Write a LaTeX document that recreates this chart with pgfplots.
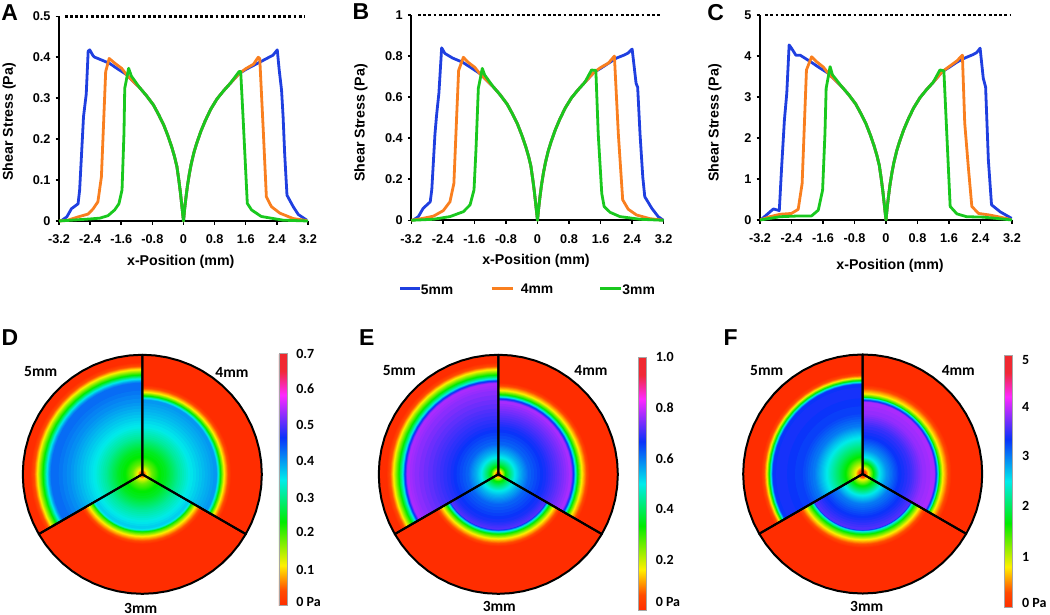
\documentclass[border=0pt]{standalone}
\usepackage{fontspec}
\setmainfont{Liberation Sans}
\newfontfamily\calfont{Carlito}
\usepackage{pgfplots}
\usepackage{pgfplotstable}
\pgfplotsset{compat=1.18}
\definecolor{cb}{RGB}{31,63,224}
\definecolor{co}{RGB}{249,127,31}
\definecolor{cg}{RGB}{25,200,30}
\pgfplotsset{
 colormap={heat}{rgb255(0pt)=(255,45,0) rgb255(60pt)=(255,75,0) rgb255(160pt)=(255,240,0) rgb255(333pt)=(0,235,0) rgb255(500pt)=(0,235,235) rgb255(667pt)=(10,50,250) rgb255(835pt)=(255,40,255) rgb255(930pt)=(240,40,55) rgb255(1000pt)=(240,40,45)},
 lineax/.style={scale only axis, axis lines=left, axis line style={-,line width=2pt},
  tick align=outside, major tick length=3.5pt, tick style={black,line width=1.5pt},
  xmin=-3.2,xmax=3.2, xtick={-3.2,-2.4,-1.6,-0.8,0,0.8,1.6,2.4,3.2},
  xticklabels={-3.2,-2.4,-1.6,-0.8,0,0.8,1.6,2.4,3.2},
  ymin=0, clip=false,
  tick label style={font=\fontsize{12.7}{15}\selectfont\bfseries},
  xticklabel style={yshift=-7pt},
  yticklabel style={xshift=-1.5pt},
  label style={font=\fontsize{14.2}{17}\selectfont\bfseries},
  every axis plot/.append style={line width=2.8pt,line join=round,no markers},
 },
 limitline/.style={black,line width=2.8pt,dash pattern=on 2.8pt off 2.4pt,line cap=butt},
 heatax/.style={scale only axis, hide axis, clip=false, xmin=-1.05,xmax=1.05,ymin=-1.05,ymax=1.05,
  width=251pt,height=251pt,colormap name=heat},
 barstyle/.style={colorbar, colorbar style={at={(parent axis.south east)},anchor=south west,
  scale only axis,width=8pt,height=#1,yticklabel pos=right,
  tick style={draw=none},axis line style={gray!70,line width=0.6pt},
  yticklabel style={font=\fontsize{14}{16}\selectfont\calfont\bfseries,xshift=6pt}}},
}
% Unit sector outline: rho, angle
\pgfplotstableread{
rho a
0 0
1 0
1 6
1 12
1 18
1 24
1 30
1 36
1 42
1 48
1 54
1 60
1 66
1 72
1 78
1 84
1 90
1 96
1 102
1 108
1 114
1 120
0 0
}\arcpts
\newcommand{\hband}[3]{%
 \pgfmathsetmacro\cv{1000*#2}%
 \edef\tmp{\noexpand\addplot[forget plot,draw=none,color of colormap={\cv},fill=.] table[x expr={#1*\noexpand\thisrow{rho}*cos(#3+\noexpand\thisrow{a})},y expr={#1*\noexpand\thisrow{rho}*sin(#3+\noexpand\thisrow{a})}] {\noexpand\arcpts};}\tmp}
\newcommand{\sector}[2]{%
 \foreach \rk/\fk [remember=\rk as \rp (initially 1), remember=\fk as \fp (initially 0)] in {#2} {%
  \pgfmathtruncatemacro\nn{max(1,ceil(abs(\fk-\fp)/0.01))}%
  \foreach \s in {1,...,\nn} {%
   \pgfmathsetmacro\rr{\rp+(\rk-\rp)*(\s-1)/\nn}%
   \pgfmathsetmacro\ff{\fp+(\fk-\fp)*(\s-.5)/\nn}%
   \hband{\rr}{\ff}{#1}%
  }%
 }}
\newcommand{\outlines}{%
 \foreach \o in {90,210,330} {%
  \edef\tmp{\noexpand\addplot[forget plot,black,line width=2pt,line join=round] table[x expr={\noexpand\thisrow{rho}*cos(\o+\noexpand\thisrow{a})},y expr={\noexpand\thisrow{rho}*sin(\o+\noexpand\thisrow{a})}] {\noexpand\arcpts};}\tmp}}
\newcommand{\lab}[4]{\node[inner sep=0pt,anchor=center,font=#3] at (#1pt,-#2pt) {#4};}
\begin{document}
\begin{tikzpicture}[x=1pt,y=1pt]
\path[use as bounding box] (0pt,0pt) rectangle (1050pt,-615pt);
% A
\begin{axis}[lineax,at={(59pt,-221pt)},width=249pt,height=204.7pt,ymax=0.5,
 ytick={0,0.1,0.2,0.3,0.4,0.5},yticklabels={0,0.1,0.2,0.3,0.4,0.5},
 xlabel={x-Position (mm)},ylabel={Shear Stress (Pa)},
 xlabel style={at={(axis description cs:0.489,-0.2)},anchor=center},
 ylabel style={at={(axis description cs:-0.1996,0.485)},anchor=center}]
\addplot[limitline] coordinates {(-3.05,0.5) (3.12,0.5)};
\addplot[cb] coordinates {(-3.15,0)(-3.0,.01)(-2.88,.03)(-2.71,.042)(-2.67,.075)(-2.6,.2)(-2.57,.255)(-2.5,.31)(-2.45,.415)(-2.41,.418)(-2.32,.403)(-2.28,.40)(-2.15,.395)(-1.9,.385)(-1.7,.372)(-1.47,.358)(-1.3,.342)(-1.13,.326)(-.95,.306)(-.77,.283)(-.64,.26)(-.51,.235)(-.4,.208)(-.3,.18)(-.23,.157)(-.17,.133)(-.12,.1)(-.08,.07)(-.04,.035)(0,0)(.03,.03)(.06,.055)(.1,.085)(.15,.115)(.2,.14)(.27,.168)(.34,.19)(.45,.22)(.56,.245)(.7,.273)(.86,.298)(1.03,.318)(1.2,.336)(1.43,.36)(1.6,.37)(1.8,.38)(2.0,.39)(2.2,.4)(2.3,.405)(2.41,.418)(2.46,.369)(2.52,.32)(2.56,.255)(2.6,.165)(2.66,.063)(2.82,.035)(2.95,.016)(3.17,.002)};
\addplot[co] coordinates {(-3.2,0)(-2.97,.002)(-2.71,.01)(-2.45,.017)(-2.32,.03)(-2.2,.047)(-2.11,.108)(-2.0,.365)(-1.91,.397)(-1.76,.385)(-1.59,.373)(-1.47,.358)(-1.3,.342)(-1.13,.326)(-.95,.306)(-.77,.283)(-.64,.26)(-.51,.235)(-.4,.208)(-.3,.18)(-.23,.157)(-.17,.133)(-.12,.1)(-.08,.07)(-.04,.035)(0,0)(.03,.03)(.06,.055)(.1,.085)(.15,.115)(.2,.14)(.27,.168)(.34,.19)(.45,.22)(.56,.245)(.7,.273)(.86,.298)(1.03,.318)(1.2,.336)(1.43,.36)(1.6,.372)(1.8,.383)(1.92,.40)(1.96,.397)(2.05,.222)(2.13,.059)(2.26,.035)(2.48,.019)(2.82,.006)(3.17,.001)};
\addplot[cg] coordinates {(-3.2,0)(-2.4,.005)(-2.15,.007)(-1.94,.013)(-1.77,.027)(-1.66,.042)(-1.58,.076)(-1.53,.214)(-1.51,.324)(-1.41,.373)(-1.34,.354)(-1.13,.326)(-.95,.306)(-.77,.283)(-.64,.26)(-.51,.235)(-.4,.208)(-.3,.18)(-.23,.157)(-.17,.133)(-.12,.1)(-.08,.07)(-.04,.035)(0,0)(.03,.03)(.06,.055)(.1,.085)(.15,.115)(.2,.14)(.27,.168)(.34,.19)(.45,.22)(.56,.245)(.7,.273)(.86,.298)(1.03,.318)(1.2,.336)(1.43,.365)(1.47,.365)(1.53,.255)(1.64,.043)(1.75,.027)(2.0,.011)(2.56,.002)(3.2,0)};
\end{axis}
% B
\begin{axis}[lineax,at={(411.3pt,-220.3pt)},width=252.4pt,height=205.3pt,ymax=1,
 ytick={0,0.2,0.4,0.6,0.8,1},yticklabels={0,0.2,0.4,0.6,0.8,1},
 xlabel={x-Position (mm)},ylabel={Shear Stress (Pa)},
 xlabel style={at={(axis description cs:0.494,-0.195)},anchor=center},
 ylabel style={at={(axis description cs:-0.199,0.474)},anchor=center}]
\addplot[limitline] coordinates {(-3.03,1) (3.14,1)};
\addplot[cb] coordinates {(-3.16,0)(-3.02,.018)(-2.9,.058)(-2.72,.09)(-2.68,.15)(-2.6,.42)(-2.56,.51)(-2.5,.62)(-2.43,.84)(-2.35,.813)(-2.28,.805)(-2.15,.79)(-1.9,.77)(-1.7,.745)(-1.47,.716)(-1.3,.684)(-1.13,.652)(-.95,.612)(-.77,.566)(-.64,.52)(-.51,.47)(-.4,.416)(-.3,.36)(-.23,.314)(-.17,.266)(-.12,.2)(-.08,.14)(-.04,.07)(0,0)(.03,.06)(.06,.11)(.1,.17)(.15,.23)(.2,.28)(.27,.336)(.34,.38)(.45,.44)(.56,.49)(.7,.546)(.86,.596)(1.03,.636)(1.2,.672)(1.43,.72)(1.6,.74)(1.8,.765)(2.0,.79)(2.2,.805)(2.3,.815)(2.4,.834)(2.5,.667)(2.54,.648)(2.6,.42)(2.67,.21)(2.72,.115)(2.9,.058)(3.06,.018)(3.19,0)};
\addplot[co] coordinates {(-3.2,0)(-2.95,.008)(-2.64,.02)(-2.39,.047)(-2.22,.09)(-2.12,.18)(-2.05,.505)(-2.0,.73)(-1.88,.794)(-1.76,.77)(-1.59,.745)(-1.47,.716)(-1.3,.684)(-1.13,.652)(-.95,.612)(-.77,.566)(-.64,.52)(-.51,.47)(-.4,.416)(-.3,.36)(-.23,.314)(-.17,.266)(-.12,.2)(-.08,.14)(-.04,.07)(0,0)(.03,.06)(.06,.11)(.1,.17)(.15,.23)(.2,.28)(.27,.336)(.34,.38)(.45,.44)(.56,.49)(.7,.546)(.86,.596)(1.03,.636)(1.2,.672)(1.43,.72)(1.6,.744)(1.8,.766)(1.95,.80)(2.05,.42)(2.16,.1)(2.3,.054)(2.51,.026)(2.85,.008)(3.17,.001)};
\addplot[cg] coordinates {(-3.2,0)(-2.64,.005)(-2.22,.018)(-1.88,.042)(-1.71,.075)(-1.61,.148)(-1.56,.343)(-1.5,.643)(-1.4,.74)(-1.34,.708)(-1.13,.652)(-.95,.612)(-.77,.566)(-.64,.52)(-.51,.47)(-.4,.416)(-.3,.36)(-.23,.314)(-.17,.266)(-.12,.2)(-.08,.14)(-.04,.07)(0,0)(.03,.06)(.06,.11)(.1,.17)(.15,.23)(.2,.28)(.27,.336)(.34,.38)(.45,.44)(.56,.49)(.7,.546)(.86,.596)(1.03,.636)(1.2,.672)(1.37,.732)(1.48,.73)(1.54,.42)(1.63,.13)(1.69,.067)(1.84,.039)(2.09,.018)(2.6,.005)(3.2,0)};
\end{axis}
% C
\begin{axis}[lineax,at={(760pt,-220pt)},width=252pt,height=205pt,ymax=5,
 ytick={0,1,2,3,4,5},yticklabels={0,1,2,3,4,5},
 xlabel={x-Position (mm)},ylabel={Shear Stress (Pa)},
 xlabel style={at={(axis description cs:0.516,-0.2246)},anchor=center},
 ylabel style={at={(axis description cs:-0.1786,0.473)},anchor=center}]
\addplot[limitline] coordinates {(-3.07,5) (3.14,5)};
\addplot[cb] coordinates {(-3.16,.02)(-2.86,.27)(-2.71,.23)(-2.65,1.3)(-2.58,2.44)(-2.52,3.09)(-2.46,4.27)(-2.4,4.19)(-2.29,4.02)(-2.18,4.02)(-1.9,3.85)(-1.7,3.72)(-1.47,3.58)(-1.3,3.42)(-1.13,3.26)(-.95,3.06)(-.77,2.83)(-.64,2.6)(-.51,2.35)(-.4,2.08)(-.3,1.8)(-.23,1.57)(-.17,1.33)(-.12,1.0)(-.08,.7)(-.04,.35)(0,0)(.03,.3)(.06,.55)(.1,.85)(.15,1.15)(.2,1.4)(.27,1.68)(.34,1.9)(.45,2.2)(.56,2.45)(.7,2.73)(.86,2.98)(1.03,3.18)(1.2,3.36)(1.43,3.62)(1.6,3.72)(1.8,3.85)(2.0,3.95)(2.2,4.03)(2.3,4.08)(2.39,4.19)(2.47,3.46)(2.53,3.24)(2.6,1.46)(2.68,.37)(2.9,.2)(3.19,.04)};
\addplot[co] coordinates {(-3.2,0)(-2.95,.08)(-2.69,.14)(-2.4,.16)(-2.23,.26)(-2.13,.89)(-2.02,3.66)(-1.89,3.98)(-1.76,3.86)(-1.59,3.73)(-1.47,3.58)(-1.3,3.42)(-1.13,3.26)(-.95,3.06)(-.77,2.83)(-.64,2.6)(-.51,2.35)(-.4,2.08)(-.3,1.8)(-.23,1.57)(-.17,1.33)(-.12,1.0)(-.08,.7)(-.04,.35)(0,0)(.03,.3)(.06,.55)(.1,.85)(.15,1.15)(.2,1.4)(.27,1.68)(.34,1.9)(.45,2.2)(.56,2.45)(.7,2.73)(.86,2.98)(1.03,3.18)(1.2,3.36)(1.43,3.62)(1.6,3.74)(1.8,3.88)(1.94,4.02)(2.0,2.36)(2.09,1.3)(2.18,.33)(2.35,.16)(2.64,.12)(2.9,.07)(3.17,.01)};
\addplot[cg] coordinates {(-3.2,0)(-2.69,.08)(-2.18,.1)(-1.89,.1)(-1.72,.24)(-1.61,.73)(-1.55,2.11)(-1.52,3.21)(-1.42,3.74)(-1.36,3.54)(-1.13,3.26)(-.95,3.06)(-.77,2.83)(-.64,2.6)(-.51,2.35)(-.4,2.08)(-.3,1.8)(-.23,1.57)(-.17,1.33)(-.12,1.0)(-.08,.7)(-.04,.35)(0,0)(.03,.3)(.06,.55)(.1,.85)(.15,1.15)(.2,1.4)(.27,1.68)(.34,1.9)(.45,2.2)(.56,2.45)(.7,2.73)(.86,2.98)(1.03,3.18)(1.2,3.36)(1.37,3.66)(1.47,3.64)(1.52,2.6)(1.63,.33)(1.8,.15)(2.05,.08)(2.47,.07)(2.9,.03)(3.2,0)};
\end{axis}
% D
\begin{axis}[heatax,at={(16.8pt,-599.8pt)},point meta min=0,point meta max=0.7,
 barstyle=252.4pt,
 colorbar style={xshift=2.5pt,yshift=-5.9pt,ytick={0.011,0.099,0.204,0.3,0.401,0.501,0.603,0.698},
 yticklabels={0 Pa,0.1,0.2,0.3,0.4,0.5,0.6,0.7}}]
\sector{90}{1/0,.935/0,.90/.07,.875/.16,.83/.33,.796/.5,.775/.58,.76/.62,.7/.61,.6/.58,.45/.52,.4/.5,.3/.44,.2/.36,.14/.33,.08/.26,.04/.17,.015/.06,.003/0}
\sector{330}{1/0,.745/0,.715/.07,.685/.16,.655/.33,.635/.5,.62/.58,.5/.54,.4/.5,.3/.44,.2/.36,.14/.33,.08/.26,.04/.17,.015/.06,.003/0}
\sector{210}{1/0,.585/0,.555/.07,.52/.16,.48/.33,.465/.5,.45/.53,.4/.5,.3/.44,.2/.36,.14/.33,.08/.26,.04/.17,.015/.06,.003/0}
\outlines
\end{axis}
% E
\begin{axis}[heatax,at={(372.8pt,-599.8pt)},point meta min=0,point meta max=1,
 barstyle=252.7pt,
 colorbar style={xshift=5.9pt,yshift=-10.2pt,ytick={0.03,0.2,0.4,0.6,0.8,1.0},
 yticklabels={0 Pa,0.2,0.4,0.6,0.8,1.0}}]
\sector{90}{1/0,.935/0,.90/.07,.875/.16,.83/.33,.796/.5,.78/.66,.76/.78,.7/.76,.55/.72,.4/.68,.25/.62,.18/.55,.14/.5,.09/.4,.06/.33,.03/.17,.01/.03,.003/0}
\sector{330}{1/0,.765/0,.735/.07,.70/.16,.665/.33,.645/.5,.63/.66,.61/.78,.55/.75,.4/.68,.25/.62,.18/.55,.14/.5,.09/.4,.06/.33,.03/.17,.01/.03,.003/0}
\sector{210}{1/0,.605/0,.575/.07,.54/.16,.50/.33,.48/.5,.46/.72,.4/.68,.25/.62,.18/.55,.14/.5,.09/.4,.06/.33,.03/.17,.01/.03,.003/0}
\outlines
\end{axis}
% F
\begin{axis}[heatax,at={(737.2pt,-599.5pt)},point meta min=0,point meta max=5,
 barstyle=252.3pt,
 colorbar style={xshift=7.8pt,yshift=-7.8pt,ytick={0.09,0.99,2.0,3.0,3.98,4.9},
 yticklabels={0 Pa,1,2,3,4,5}}]
\sector{90}{1/0,.85/0,.82/.07,.80/.16,.78/.33,.765/.5,.75/.66,.7/.68,.5/.65,.4/.6,.3/.5,.2/.4,.14/.33,.06/.17,.02/.03,.003/0}
\sector{330}{1/0,.745/0,.71/.07,.67/.16,.64/.33,.63/.5,.615/.66,.60/.78,.5/.76,.4/.7,.3/.66,.2/.58,.14/.5,.09/.33,.05/.17,.02/.03,.003/0}
\sector{210}{1/0,.62/0,.585/.07,.55/.16,.505/.33,.48/.5,.465/.72,.35/.66,.25/.6,.18/.5,.1/.33,.05/.17,.02/.03,.003/0}
\outlines
\end{axis}
% Panel letters
\def\pl{\fontsize{23}{26}\selectfont\bfseries}
\lab{9.7}{13}{\pl}{A}\lab{361}{12}{\pl}{B}\lab{715.7}{12.7}{\pl}{C}
\lab{10}{338}{\pl}{D}\lab{366.7}{338}{\pl}{E}\lab{730.7}{338}{\pl}{F}
% Legend
\draw[cb,line width=2.8pt] (400pt,-288.3pt)--(420pt,-288.3pt);
\draw[co,line width=2.8pt] (491.7pt,-288.3pt)--(513pt,-288.3pt);
\draw[cg,line width=2.8pt] (600pt,-288.3pt)--(620.7pt,-288.3pt);
\def\lf{\fontsize{13.9}{16}\selectfont\bfseries}
\lab{437}{289.3}{\lf}{5mm}\lab{537}{288.7}{\lf}{4mm}\lab{638.7}{289.7}{\lf}{3mm}
% Sector names
\def\sf{\fontsize{15.5}{18}\selectfont\calfont\bfseries}
\lab{40.7}{372}{\sf}{5mm}\lab{232}{372}{\sf}{4mm}\lab{140.7}{608}{\sf}{3mm}
\lab{399.3}{370.7}{\sf}{5mm}\lab{591}{370}{\sf}{4mm}\lab{499.3}{606.7}{\sf}{3mm}
\lab{766.7}{370.7}{\sf}{5mm}\lab{958.3}{370}{\sf}{4mm}\lab{866.7}{606}{\sf}{3mm}
\end{tikzpicture}
\end{document}
